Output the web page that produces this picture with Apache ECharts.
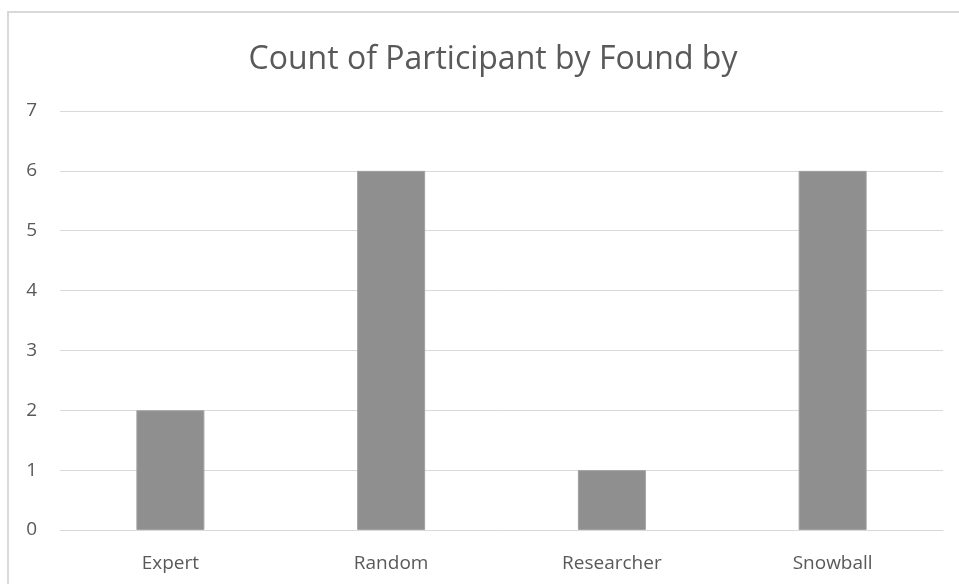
<!DOCTYPE html>
<html>
<head>
<meta charset="utf-8">
<script src="https://cdn.jsdelivr.net/npm/echarts@6/dist/echarts.min.js"></script>
<style>
  html, body { margin: 0; padding: 0; background: #ffffff; }
  #chart { width: 959px; height: 584px; }
</style>
</head>
<body>
<div id="chart"></div>
<script>
// Participants grouped by how they were found
const categories = ['Expert', 'Random', 'Researcher', 'Snowball'];
const counts = [2, 6, 1, 6];
const yTicks = [0, 1, 2, 3, 4, 5, 6, 7];

const textColor = '#595959';
const fontFamily = '"Open Sans", "Noto Sans", sans-serif';

const chart = echarts.init(document.getElementById('chart'), null, { renderer: 'canvas' });
chart.setOption({
  animation: false,
  backgroundColor: '#ffffff',
  graphic: [{
    type: 'rect',
    shape: { x: 8, y: 12, width: 1000, height: 700 },
    style: { fill: 'none', stroke: '#d9d9d9', lineWidth: 2 },
    silent: true
  }],
  title: {
    text: 'Count of Participant by Found by',
    left: 488,
    textAlign: 'center',
    top: 39,
    textStyle: { color: textColor, fontFamily: fontFamily, fontSize: 32, fontWeight: 'normal' }
  },
  grid: { left: 60, right: 16, top: 111, bottom: 54, containLabel: false },
  xAxis: {
    type: 'category',
    data: categories,
    axisLine: { show: true, lineStyle: { color: '#d9d9d9', width: 1 } },
    axisTick: { show: false },
    axisLabel: { color: textColor, fontFamily: fontFamily, fontSize: 19, margin: 24 }
  },
  yAxis: {
    type: 'value',
    min: yTicks[0],
    max: yTicks[yTicks.length - 1],
    interval: 1,
    axisLine: { show: false },
    axisTick: { show: false },
    splitLine: { lineStyle: { color: '#d9d9d9', width: 1 } },
    axisLabel: { color: textColor, fontFamily: fontFamily, fontSize: 19, margin: 23 }
  },
  series: [{
    type: 'bar',
    data: counts,
    barWidth: 68,
    itemStyle: { color: '#8f8f8f', borderColor: '#a0a0a0', borderWidth: 1 }
  }]
});
</script>
</body>
</html>
